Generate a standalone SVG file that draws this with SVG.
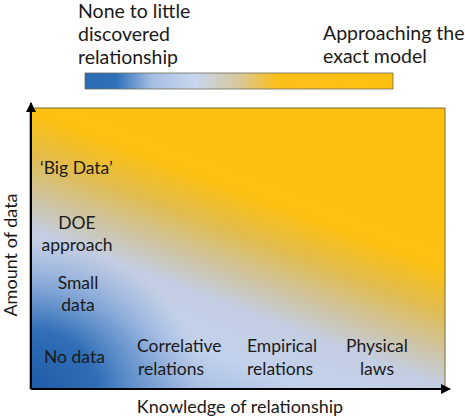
<svg xmlns="http://www.w3.org/2000/svg" width="465" height="420" viewBox="0 0 465 420">
<defs>
<style>
text{font-family:Lato,"Open Sans","Liberation Sans",sans-serif;font-size:17.5px;fill:#1a1a1a}
.big{font-size:19.5px}
.axl{font-size:18px}
.c{text-anchor:middle}
.ax{stroke:#000;stroke-width:2;fill:none}
</style>
<linearGradient id="bar" x1="85" y1="0" x2="393" y2="0" gradientUnits="userSpaceOnUse">
<stop offset="0" stop-color="#2b6bb5"/>
<stop offset="0.1" stop-color="#2f70b8"/>
<stop offset="0.22" stop-color="#a8c0e3"/>
<stop offset="0.36" stop-color="#c8d6ee"/>
<stop offset="0.5" stop-color="#d8c89c"/>
<stop offset="0.62" stop-color="#fbbf1a"/>
<stop offset="1" stop-color="#fdc010"/>
</linearGradient>
<linearGradient id="plot" x1="30" y1="390" x2="136.5" y2="109.5" gradientUnits="userSpaceOnUse">
<stop offset="0" stop-color="#7fa3d6"/>
<stop offset="0.2" stop-color="#a9c0e4"/>
<stop offset="0.33" stop-color="#c2d1ec"/>
<stop offset="0.5" stop-color="#c4cee2"/>
<stop offset="0.62" stop-color="#d0c39a"/>
<stop offset="0.74" stop-color="#e2bc4a"/>
<stop offset="0.86" stop-color="#fcc014"/>
<stop offset="1" stop-color="#fdc010"/>
</linearGradient>
<radialGradient id="blue" cx="0.5" cy="0.5" r="0.5">
<stop offset="0" stop-color="#1d5ba6" stop-opacity="1"/>
<stop offset="0.4" stop-color="#2a6ab4" stop-opacity="0.95"/>
<stop offset="0.65" stop-color="#4a80c3" stop-opacity="0.6"/>
<stop offset="1" stop-color="#6a95cf" stop-opacity="0"/>
</radialGradient>
<clipPath id="clip"><rect x="30" y="108" width="415" height="281"/></clipPath>
<marker id="arr" viewBox="0 0 10 10" refX="9" refY="5" markerWidth="5" markerHeight="5" orient="auto">
<path d="M0,0 L10,5 L0,10 z" fill="#000"/>
</marker>
</defs>
<g id="legend">
<rect x="85" y="73" width="308" height="16" fill="url(#bar)" stroke="#6b6b5a" stroke-width="0.8"/>
<text class="big" x="78" y="18">None to little</text>
<text class="big" x="78" y="41">discovered</text>
<text class="big" x="78" y="64">relationship</text>
<text class="big" x="323" y="40">Approaching the</text>
<text class="big" x="323" y="63">exact model</text>
</g>
<g id="plot-area">
<rect x="30" y="108" width="415" height="281" fill="url(#plot)"/>
<ellipse cx="30" cy="390" rx="170" ry="150" fill="url(#blue)" clip-path="url(#clip)"/>
<rect x="30" y="108" width="415" height="281" fill="none" stroke="#7a6a3a" stroke-width="1"/>
</g>
<g id="connectors">
<line class="ax" x1="31" y1="389" x2="31" y2="103" marker-end="url(#arr)"/>
<line class="ax" x1="31" y1="389" x2="450" y2="389" marker-end="url(#arr)"/>
</g>
<g id="big-data"><text x="40" y="174">‘Big Data’</text></g>
<g id="doe"><text class="c" x="77" y="229">DOE</text><text class="c" x="77" y="251">approach</text></g>
<g id="small-data"><text class="c" x="78" y="289">Small</text><text class="c" x="78" y="311">data</text></g>
<g id="no-data"><text x="44" y="363">No data</text></g>
<g id="correlative"><text x="137" y="352">Correlative</text><text x="138" y="375">relations</text></g>
<g id="empirical"><text x="247" y="352">Empirical</text><text x="247" y="375">relations</text></g>
<g id="physical"><text class="c" x="377" y="352">Physical</text><text class="c" x="377" y="375">laws</text></g>
<g id="axis-labels">
<text class="c axl" x="240" y="413">Knowledge of relationship</text>
<text class="c axl" transform="translate(17 255) rotate(-90)">Amount of data</text>
</g>
</svg>
